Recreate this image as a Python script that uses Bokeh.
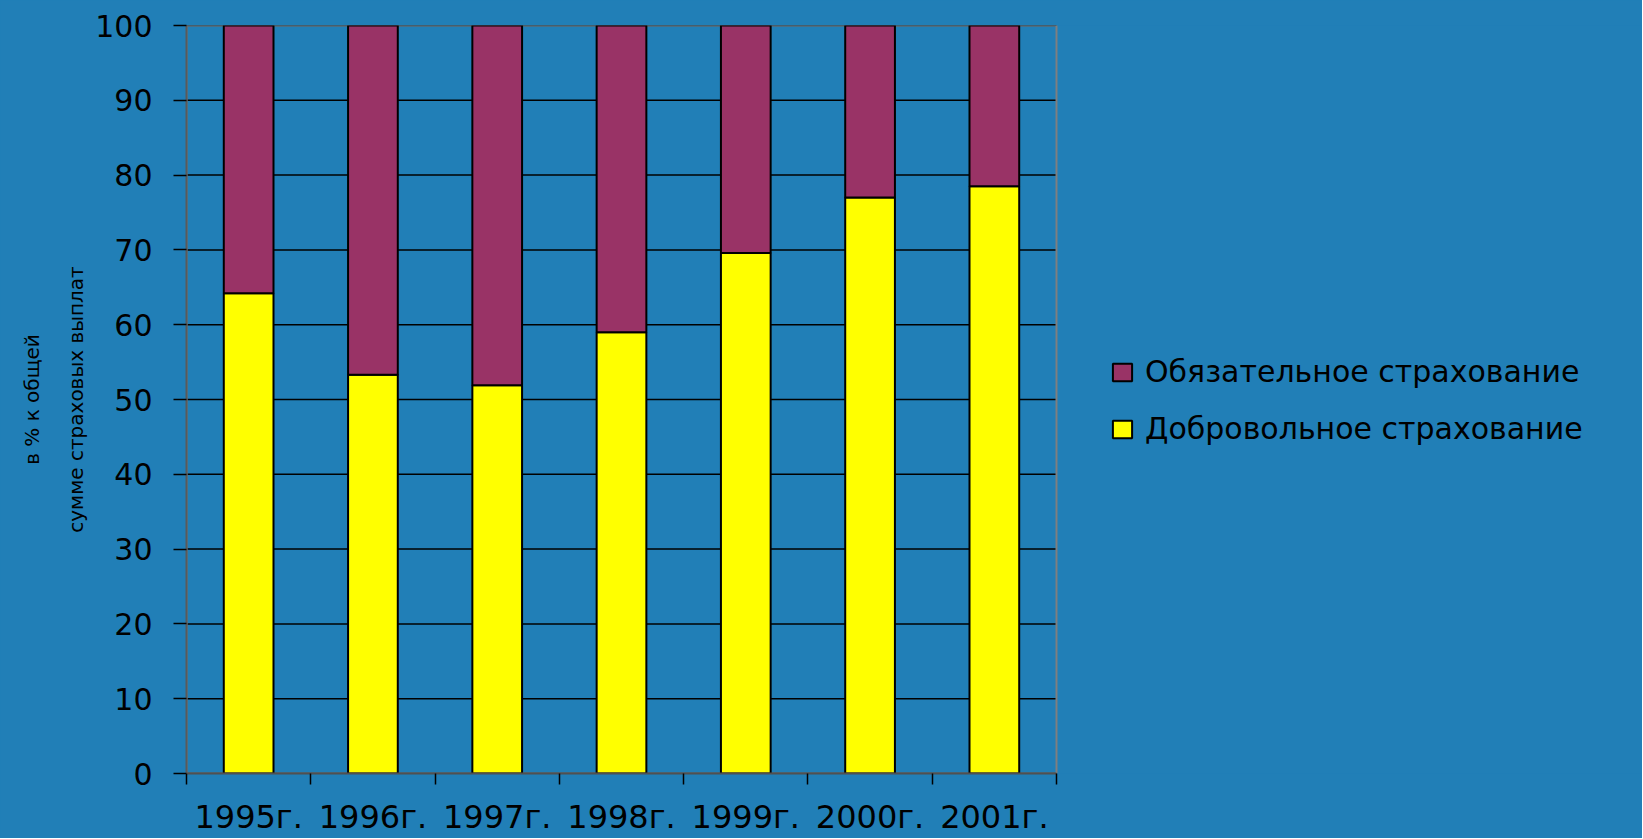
from bokeh.plotting import figure
from bokeh.models import (Range1d, FixedTicker, Legend, LegendItem, ColumnDataSource)
from bokeh.embed import file_html
from bokeh.resources import INLINE

# ---- data ----
years = ["1995г.", "1996г.", "1997г.", "1998г.", "1999г.", "2000г.", "2001г."]
voluntary = [64.2, 53.3, 51.9, 59.0, 69.6, 77.0, 78.5]      # Добровольное страхование
mandatory = [35.8, 46.7, 48.1, 41.0, 30.4, 23.0, 21.5]      # Обязательное страхование
y_ticks = [0, 10, 20, 30, 40, 50, 60, 70, 80, 90, 100]
series_names = ["Обязательное страхование", "Добровольное страхование"]
y_title = "в % к общей\nсумме страховых выплат"

BG = "#217fb7"
YELLOW = "#ffff00"
PURPLE = "#993366"
FONT = "DejaVu Sans"

W, H = 1642, 838
LEFT, TOP, BOTTOM, RIGHT = 186, 25, 64, 0
PLOT_W = 870          # pixel width of the category area (7 categories)

n = len(years)
frame_w = W - LEFT - RIGHT
x_end = n * frame_w / PLOT_W      # extra room on the right holds the legend

centers = [i + 0.5 for i in range(n)]
source = ColumnDataSource(dict(x=centers, vol=voluntary, obl=mandatory, year=years))

p = figure(width=W, height=H, output_backend="svg", toolbar_location=None,
           x_range=Range1d(0, x_end), y_range=Range1d(0, 100),
           min_border_left=LEFT, min_border_right=RIGHT,
           min_border_top=TOP, min_border_bottom=BOTTOM)

p.styles = {"background-color": BG}
p.background_fill_color = BG
p.border_fill_color = BG
p.outline_line_color = None

# horizontal grid lines across the category area only
p.xgrid.visible = False
p.ygrid.visible = False
p.segment(x0=[0] * len(y_ticks), x1=[n] * len(y_ticks), y0=y_ticks, y1=y_ticks,
          line_color="black", line_width=1.5)
# plot-area border (gray)
p.quad(left=[0], right=[n], bottom=[0], top=[100], fill_color=None,
       line_color="#7f7f7f", line_width=2)

r = p.vbar_stack(["vol", "obl"], x="x", width=0.4, source=source,
                 fill_color=[YELLOW, PURPLE], line_color="black", line_width=2)

# y axis
ya = p.yaxis[0]
ya.ticker = FixedTicker(ticks=y_ticks)
ya.axis_line_color = "#5a5a5a"
ya.axis_line_width = 2
ya.major_tick_line_color = "black"
ya.major_tick_line_width = 1.5
ya.major_tick_out = 13
ya.major_tick_in = 0
ya.minor_tick_line_color = None
ya.major_label_standoff = 21
ya.major_label_text_font = FONT
ya.major_label_text_font_size = "30px"
ya.major_label_text_color = "black"
ya.axis_label = y_title
ya.axis_label_text_font = FONT
ya.axis_label_text_font_size = "20px"
ya.axis_label_text_font_style = "normal"
ya.axis_label_text_color = "black"
ya.axis_label_text_line_height = 1.85
ya.axis_label_standoff = 4

# x axis: labels at centers, tick marks at category boundaries
xa = p.xaxis[0]
xa.bounds = (0, n)
xa.ticker = FixedTicker(ticks=centers, minor_ticks=list(range(n + 1)))
xa.major_label_overrides = {c: y for c, y in zip(centers, years)}
xa.axis_line_color = "#505050"
xa.axis_line_width = 2
xa.major_tick_line_color = None
xa.major_tick_out = 0
xa.major_tick_in = 0
xa.minor_tick_line_color = "black"
xa.minor_tick_line_width = 1.5
xa.minor_tick_out = 11
xa.minor_tick_in = 0
xa.major_label_standoff = 13
xa.major_label_text_font = FONT
xa.major_label_text_font_size = "32px"
xa.major_label_text_color = "black"

legend = Legend(items=[LegendItem(label=series_names[0], renderers=[r[1]]),
                       LegendItem(label=series_names[1], renderers=[r[0]])],
                location=(924, 327), orientation="vertical",
                background_fill_alpha=0, border_line_alpha=0,
                padding=0, margin=0, spacing=22,
                glyph_width=24, glyph_height=22, label_height=30,
                label_standoff=11,
                label_text_font=FONT, label_text_font_size="30px",
                label_text_color="black")
p.add_layout(legend, "center")

open("out.html", "w").write(file_html(p, INLINE))
